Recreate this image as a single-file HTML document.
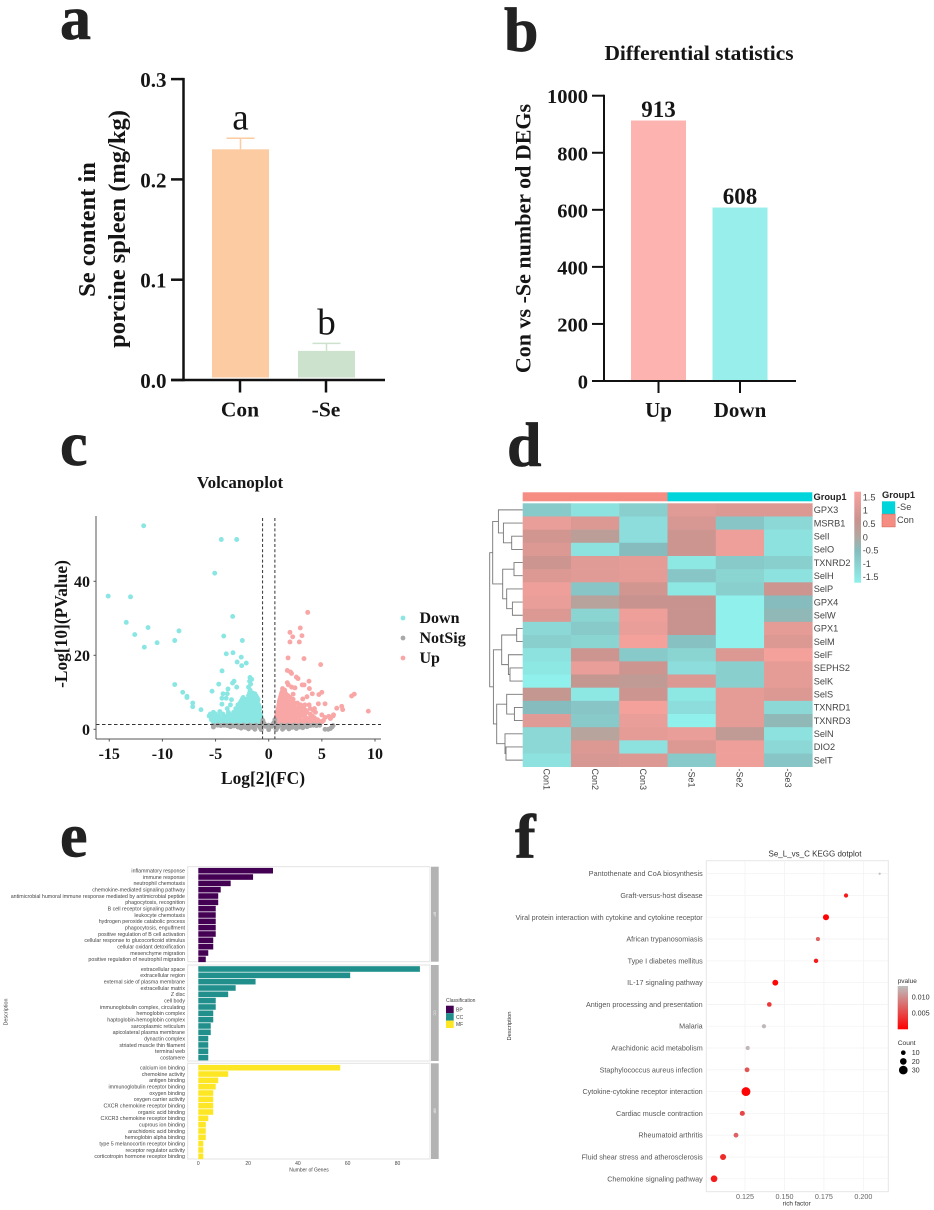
<!DOCTYPE html>
<html lang="en">
<head>
<meta charset="utf-8">
<title>Selenium deficiency spleen figure</title>
<style>
html,body{margin:0;padding:0;background:#fff;width:934px;height:1210px;overflow:hidden}
svg{display:block}
.serif{font-family:"Liberation Serif",serif;font-weight:700;fill:#151515}
.sans{font-family:"Liberation Sans",sans-serif;fill:#444}
.soft{filter:blur(.35px)}
</style>
</head>
<body>
<svg id="fig" xmlns="http://www.w3.org/2000/svg" width="934" height="1210" viewBox="0 0 934 1210">
<rect width="934" height="1210" fill="#fff"/>
<defs>
<linearGradient id="heatGrad" x1="0" y1="1" x2="0" y2="0"></linearGradient>
<linearGradient id="pGrad" x1="0" y1="1" x2="0" y2="0"><stop offset="0" stop-color="#ff0000"/><stop offset="1" stop-color="#bebebe"/></linearGradient>
</defs>

<!-- panel letters -->
<g class="serif" style="font-size:62px;fill:#222;stroke:#222;stroke-width:.7px">
<text x="60" y="39">a</text>
<text x="504" y="51">b</text>
<text x="60" y="465">c</text>
<text x="507" y="466">d</text>
<text x="60" y="856.5">e</text>
<text x="515" y="857.5">f</text>
</g>

<!-- panel a -->
<g id="panelA">
<text class="serif" transform="translate(95,229.5) rotate(-90)" text-anchor="middle" font-size="24.5">Se content in</text>
<text class="serif" transform="translate(125,229) rotate(-90)" text-anchor="middle" font-size="24.5">porcine spleen (mg/kg)</text>
</g>

<!-- panel b -->
<g id="panelB">
<text class="serif" x="699" y="60" text-anchor="middle" font-size="21.4">Differential statistics</text>
<text class="serif" transform="translate(530.5,238.5) rotate(-90)" text-anchor="middle" font-size="22">Con vs -Se number od DEGs</text>
</g>

<!-- panel c -->
<g id="panelC">
<text class="serif" x="240" y="488" text-anchor="middle" font-size="17">Volcanoplot</text>
<text class="serif" x="263" y="784" text-anchor="middle" font-size="17.4">Log[2](FC)</text>
<text class="serif" transform="translate(67,624) rotate(-90)" text-anchor="middle" font-size="17.4">-Log[10](PValue)</text>
</g>

<!-- panel d -->
<g id="panelD" class="soft">
<text class="sans" x="813.5" y="500" font-size="9.3" font-weight="700" style="fill:#222">Group1</text>
<text class="sans" x="882" y="498" font-size="9.3" font-weight="700" style="fill:#222">Group1</text>
</g>

<!-- panel e -->
<g id="panelE" class="soft">
<text class="sans" x="309" y="1171.5" text-anchor="middle" font-size="5">Number of Genes</text>
<text class="sans" transform="translate(7.5,1012) rotate(-90)" text-anchor="middle" font-size="5.4">Description</text>
<text class="sans" x="446" y="1002" font-size="5">Classification</text>
</g>

<!-- panel f -->
<g id="panelF" class="soft">
<text class="sans" x="815" y="856.5" text-anchor="middle" font-size="8" style="fill:#333">Se_L_vs_C KEGG dotplot</text>
<text class="sans" x="796.7" y="1205.5" text-anchor="middle" font-size="6.4" style="fill:#333">rich factor</text>
<text class="sans" transform="translate(511,1026) rotate(-90)" text-anchor="middle" font-size="5.8" style="fill:#333">Description</text>
<text class="sans" x="897.7" y="983" font-size="6.5" style="fill:#333">pvalue</text>
<text class="sans" x="897.7" y="1045" font-size="6.7" style="fill:#333">Count</text>
</g>
</svg>

<script>
/* ---------- panel a data ---------- */
var aCategories = ['Con', '-Se'];
var aValues = [0.23, 0.029];
var aErrors = [0.011, 0.0075];
var aLetters = ['a', 'b'];
var aTicks = [0, 0.1, 0.2, 0.3];
var aTickLabels = ['0.0', '0.1', '0.2', '0.3'];

/* ---------- panel b data ---------- */
var bCategories = ['Up', 'Down'];
var bValues = [913, 608];
var bTicks = [0, 200, 400, 600, 800, 1000];

/* ---------- panel c data ---------- */
var cXTicks = [-15, -10, -5, 0, 5, 10];
var cYTicks = [0, 20, 40];
var cLegend = ['Down', 'NotSig', 'Up'];
var cThresholdFC = 0.58;
var cThresholdP = 1.3;
var notSigPoints = [[-5.2,0.6],[-5.2,1],[-4.8,1.1],[-4.2,1.1],[-3.6,1.1],[-3,1.1],[-2.4,1.1],[-1.8,1.1],[-1.2,1.1],[-0.6,1.1],[0,1.1],[0.6,1.1],[1.2,1.1],[1.8,1.1],[2.4,1.1],[3,1.1],[3.6,1.1],[4.2,1.1],[4.8,1.1],
[-4.5,1],[-3.9,1],[-3.3,0.9],[-2.7,0.9],[-2.1,0.9],[-1.5,0.9],[-0.9,0.8],[-0.3,0.8],[0.3,0.8],[0.9,0.8],[1.5,0.9],[2.1,0.9],[2.7,0.9],[3.3,0.9],[3.9,1],[4.5,1],
[-3.6,0.7],[-2.9,0.6],[-2.2,0.5],[-1.5,0.5],[-0.8,0.4],[0,0.4],[0.8,0.4],[1.5,0.5],[2.2,0.5],[2.9,0.6],[3.6,0.7],
[-2.6,0.3],[-1.9,0.1],[-1.3,0],[-0.7,-0.1],[0,-0.1],[0.7,-0.1],[1.3,0],[1.9,0.1],[2.6,0.2],[3.2,0.4],
[-0.6,1.6],[-0.55,2.4],[-0.5,1.8],[-0.4,1.4],[0.4,1.4],[0.5,1.8],[0.58,2.6],[0.6,1.6],
[5.3,0],[5.6,0],[5.8,0.2],[5.95,0.6],[6.05,1]];
var downPoints = [[-11.76,55],[-4.46,51.3],[-3.01,51.3],[-5.08,42.2],[-15.1,36],[-13,35.8],[-13.4,28.9],[-11.35,27.5],[-12.6,25.6],[-8.44,26.6],[-8.84,24],[-10.5,23.4],[-11.7,22.2],[-3.39,30.5],[-4.23,25.2],[-2.48,24],[-3.99,20.4],[-3.36,20.7],[-2.58,19.5],[-2.97,18.2],[-2.11,17.9],[-2.54,17.2],[-4.39,15.8],[-8.84,12.1],[-4.7,12.2],[-5.33,10.3],[-8.09,10],[-7.69,8.9],[-7.69,8.6],[-7.15,7.1],[-7.15,6.1],[-6.37,5.3],[-3.26,13],[-3.4,12.5],[-3.83,10.9],[-3.01,11.4],[-4.3,9.6],[-3.9,9.6],[-4.4,8.4],[-4,8.4],[-3.5,8],[-4.4,6.8],[-3.6,6.6],[-3.9,5.6],
[-1.76,14],[-1.6,13.5],[-1.8,13],[-1.7,12.2],[-1.9,11.4],[-1.75,10.6],[-1.5,9.8],[-1.8,9.8],[-1.3,9.6],
[-5.2,1.6],[-4.8,1.6],[-4.4,1.6],[-4,1.6],[-3.6,1.6],[-3.2,1.6],[-2.8,1.6],[-2.4,1.6],[-2,1.6],[-1.6,1.6],[-1.2,1.6],[-0.8,1.6],
[-5,2.1],[-4.6,2.1],[-4.2,2.1],[-3.8,2.1],[-3.4,2.1],[-3,2.1],[-2.6,2.1],[-2.2,2.1],[-1.8,2.1],[-1.4,2.1],[-1,2.1],[-0.75,2.1],
[-5.4,2.6],[-5,2.6],[-4.6,2.6],[-4.2,2.6],[-3.8,2.6],[-3.4,2.6],[-3,2.6],[-2.6,2.6],[-2.2,2.6],[-1.8,2.6],[-1.4,2.6],[-1,2.6],[-0.7,2.6],
[-5.4,3.1],[-5,3.1],[-4.6,3.1],[-4.2,3.1],[-3.6,3.1],[-3.2,3.1],[-2.8,3.1],[-2.4,3.1],[-2,3.1],[-1.6,3.1],[-1.2,3.1],[-0.85,3.1],[-0.7,3.1],
[-5.6,3.6],[-5.2,3.6],[-4.7,3.6],[-3.9,3.6],[-3.5,3.6],[-3.1,3.6],[-2.7,3.6],[-2.3,3.6],[-1.9,3.6],[-1.5,3.6],[-1.1,3.6],[-0.75,3.6],
[-5.5,4.1],[-5,4.1],[-4.3,4.1],[-3.7,4.1],[-3.1,4.1],[-2.7,4.1],[-2.3,4.1],[-1.9,4.1],[-1.5,4.1],[-1.1,4.1],[-0.8,4.1],
[-5.2,4.6],[-4.6,4.8],[-3.8,4.6],[-3.3,4.6],[-2.9,4.6],[-2.5,4.6],[-2.1,4.6],[-1.7,4.6],[-1.3,4.6],[-0.9,4.6],
[-3,5.1],[-2.7,5.1],[-2.5,5.1],[-2.1,5.1],[-1.7,5.1],[-1.3,5.1],[-0.9,5.1],
[-3.1,5.6],[-2.7,5.6],[-2.3,5.6],[-1.9,5.6],[-1.5,5.6],[-1.1,5.6],[-0.85,5.6],
[-2.8,6.1],[-2.3,6.1],[-1.9,6.1],[-1.5,6.1],[-1.1,6.1],[-0.9,6.1],
[-2.9,6.6],[-2.5,6.6],[-2.1,6.6],[-1.7,6.6],[-1.3,6.6],[-0.95,6.6],
[-2.7,7.1],[-2.3,7.1],[-1.9,7.1],[-1.5,7.1],[-1.15,7.1],
[-2.6,7.6],[-2.2,7.6],[-1.8,7.6],[-1.4,7.6],[-1.05,7.6],
[-2.5,8.1],[-2.1,8.1],[-1.7,8.1],[-1.3,8.1],[-1,8.1],
[-2.4,8.6],[-1.6,8.6],[-1.3,8.6],[-1.1,8.6],[-1.9,9.1],[-1.5,9.1],[-1.2,9.1]];
var upPoints = [[3.67,31.6],[2.97,27.4],[2,26.2],[3.13,25.3],[2.26,25],[2,23.6],[2.88,23.6],[1.82,19.3],[3.32,19.1],[4.89,17.5],[1.75,15.9],[2.05,15.5],[2.15,15.1],[2.6,14.1],[2.76,13.7],[3.79,13],[3.15,12],[3.33,12],[1.75,12.6],[1.85,12],[2.16,11.4],[2.47,11.2],[3.83,11],[4.1,9.6],[4.72,9.4],[5,10],[1.3,11],[1.5,10.6],[2.3,9.5],[3.2,8.2],[3.6,8.8],
[8.05,9.5],[7.8,9],[9.37,4.9],[6.87,6.2],[6.96,5.3],[6.4,5.7],[5.3,6.9],[4.67,6.9],
[6.1,3.9],[6.05,3.6],[5.65,3.5],[5.3,3.2],[5,3.9],[5.15,2.4],[5.8,2.9],
[0.7,1.6],[1.1,1.6],[1.5,1.6],[1.9,1.6],[2.3,1.6],[2.7,1.6],[3.1,1.6],[3.5,1.6],[3.9,1.6],[4.3,1.6],[4.7,1.6],
[0.65,2.1],[0.9,2.1],[1.3,2.1],[1.7,2.1],[2.1,2.1],[2.5,2.1],[2.9,2.1],[3.3,2.1],[3.7,2.1],[4.1,2.1],[4.5,2.1],[4.9,2.1],
[0.65,2.6],[1,2.6],[1.4,2.6],[1.8,2.6],[2.2,2.6],[2.6,2.6],[3,2.6],[3.4,2.6],[3.8,2.6],[4.6,2.6],[5,2],
[0.7,3.1],[0.9,3.1],[1.3,3.1],[1.7,3.1],[2.1,3.1],[2.5,3.1],[2.9,3.1],[3.5,3.1],[3.9,3.1],[4.3,3.1],
[0.75,3.6],[1.1,3.6],[1.5,3.6],[1.9,3.6],[2.3,3.6],[2.7,3.6],[3.3,3.6],[4.1,3.6],
[0.8,4.1],[1,4.1],[1.4,4.1],[1.8,4.1],[2.2,4.1],[2.6,4.1],[3,4.1],[3.4,4.1],[3.9,4.1],
[0.85,4.6],[1.2,4.6],[1.6,4.6],[2,4.6],[2.4,4.6],[2.8,4.6],[3.2,4.6],[3.6,4.6],[4.4,4.6],
[0.85,5.1],[1.1,5.1],[1.5,5.1],[1.9,5.1],[2.3,5.1],[2.7,5.1],[3.1,5.1],[3.5,5.1],[4.2,5.1],
[0.9,5.6],[1.3,5.6],[1.7,5.6],[2.1,5.6],[2.5,5.6],[3,5.6],[3.9,5.6],[4.3,5.6],
[0.95,6.1],[1.2,6.1],[1.6,6.1],[2,6.1],[2.4,6.1],[2.8,6.1],[3.3,6.1],
[0.95,6.6],[1.35,6.6],[1.75,6.6],[2.15,6.6],[3,6.6],[3.4,6.6],[3.8,6.6],
[1,7.1],[1.2,7.1],[1.6,7.1],[2,7.1],[2.4,7.1],[2.7,7.1],
[1,7.6],[1.4,7.6],[1.8,7.6],[2.2,7.6],
[1.05,8.1],[1.3,8.1],[1.7,8.1],[2.3,8.1],
[1.1,8.6],[1.5,8.6],[2,8.6],[1.15,9.1],[1.4,9.1],[1.8,9.1],[1.2,9.6],[1.6,9.6],[1.25,10.1],[1.5,10.1]];

/* ---------- panel d data ---------- */
var heatRows = ['GPX3','MSRB1','SelI','SelO','TXNRD2','SelH','SelP','GPX4','SelW','GPX1','SelM','SelF','SEPHS2','SelK','SelS','TXNRD1','TXNRD3','SelN','DIO2','SelT'];
var heatCols = ['Con1','Con2','Con3','-Se1','-Se2','-Se3'];
var heatValues = [
[-0.8,-1.3,-0.9,1.0,0.9,0.9],
[1.2,0.9,-1.2,0.8,-0.7,-1.1],
[0.7,0.2,-1.2,0.6,1.3,-1.3],
[0.9,-1.3,-0.5,0.6,1.3,-1.3],
[0.6,1.0,1.1,-1.4,-0.8,-0.9],
[0.9,1.0,1.1,-0.7,-1.0,-1.3],
[1.3,-0.7,0.7,-1.4,-0.9,0.6],
[1.2,0.1,0.5,0.5,-1.6,-0.5],
[0.9,-1.0,1.3,0.5,-1.6,-0.4],
[-1.1,-0.8,1.2,0.5,-1.6,1.1],
[-0.9,-1.0,1.4,-0.6,-1.6,0.9],
[-1.3,0.6,-0.8,-1.0,0.9,1.4],
[-1.4,1.2,0.6,-1.2,-0.9,1.1],
[-1.6,0.4,0.3,0.9,-0.9,1.1],
[0.4,-1.4,0.6,-1.4,1.1,0.9],
[-0.5,-0.7,1.4,-1.2,1.1,-1.1],
[1.0,-0.8,1.2,-1.6,1.1,-0.4],
[-1.1,0.05,1.1,1.2,0.3,-1.3],
[-1.1,0.9,-1.3,0.9,1.3,-1.1],
[-1.3,0.8,0.9,-0.8,1.3,-0.7]];
var heatScaleLabels = ['1.5','1','0.5','0','-0.5','-1','-1.5'];
var heatScaleValues = [1.5,1,0.5,0,-0.5,-1,-1.5];
var groupNames = ['Con','-Se'];
var groupSizes = [3,3];
/* dendrogram: [merge height, left, right]; a number is a row index */
var dendroTree = [33,
  [30,[24.3,0,[19.3,1,[11,2,3]]],[20,[8.7,4,5],[16,6,[10.3,7,8]]]],
  [29.3,[21,[6,9,10],[14.3,11,[12.7,12,13]]],[26,[16,14,[8.3,15,16]],[17.7,17,[16.7,18,19]]]]];

/* ---------- panel e data ---------- */
var bpTerms = ['inflammatory response','immune response','neutrophil chemotaxis','chemokine-mediated signaling pathway','antimicrobial humoral immune response mediated by antimicrobial peptide','phagocytosis, recognition','B cell receptor signaling pathway','leukocyte chemotaxis','hydrogen peroxide catabolic process','phagocytosis, engulfment','positive regulation of B cell activation','cellular response to glucocorticoid stimulus','cellular oxidant detoxification','mesenchyme migration','positive regulation of neutrophil migration'];
var bpCounts = [30,22,13,9,8,8,7,7,7,7,7,6,6,4,3];
var ccTerms = ['extracellular space','extracellular region','external side of plasma membrane','extracellular matrix','Z disc','cell body','immunoglobulin complex, circulating','hemoglobin complex','haptoglobin-hemoglobin complex','sarcoplasmic reticulum','apicolateral plasma membrane','dynactin complex','striated muscle thin filament','terminal web','costamere'];
var ccCounts = [89,61,23,15,12,7,7,6,6,5,5,4,4,4,4];
var mfTerms = ['calcium ion binding','chemokine activity','antigen binding','immunoglobulin receptor binding','oxygen binding','oxygen carrier activity','CXCR chemokine receptor binding','organic acid binding','CXCR3 chemokine receptor binding','cuprous ion binding','arachidonic acid binding','hemoglobin alpha binding','type 5 melanocortin receptor binding','receptor regulator activity','corticotropin hormone receptor binding'];
var mfCounts = [57,12,8,7,6,6,6,6,4,3,3,3,2,2,2];
var eTicks = [0,20,40,60,80];
var eClasses = ['BP','CC','MF'];

/* ---------- panel f data ---------- */
var keggTerms = ['Pantothenate and CoA biosynthesis','Graft-versus-host disease','Viral protein interaction with cytokine and cytokine receptor','African trypanosomiasis','Type I diabetes mellitus','IL-17 signaling pathway','Antigen processing and presentation','Malaria','Arachidonic acid metabolism','Staphylococcus aureus infection','Cytokine-cytokine receptor interaction','Cardiac muscle contraction','Rheumatoid arthritis','Fluid shear stress and atherosclerosis','Chemokine signaling pathway'];
var keggRich = [0.2103,0.189,0.1763,0.1712,0.170,0.1442,0.1404,0.137,0.1267,0.1263,0.1256,0.1233,0.1193,0.1111,0.1054];
var keggCount = [1,8,17,7,9,16,10,8,8,11,31,12,11,17,20];
var keggP = [0.0134,0.002,0.0003,0.007,0.002,0.0005,0.004,0.013,0.013,0.006,0.0003,0.005,0.007,0.003,0.002];
var fTicks = [0.125,0.15,0.175,0.2];
var fTickLabels = ['0.125','0.150','0.175','0.200'];
var pLegendTicks = [0.01,0.005];
var pLegendLabels = ['0.010','0.005'];
var countLegend = [10,20,30];

/* ---------- helpers ---------- */
var NS = 'http://www.w3.org/2000/svg';
function mk(tag, attrs, parent, text) {
  var n = document.createElementNS(NS, tag);
  for (var k in attrs) n.setAttribute(k, attrs[k]);
  if (text !== undefined) n.textContent = text;
  parent.appendChild(n);
  return n;
}
function lerpHex(a, b, t) {
  function ch(h, i) { return parseInt(h.substr(1 + i * 2, 2), 16); }
  var out = '#';
  for (var i = 0; i < 3; i++) {
    var v = Math.round(ch(a, i) + (ch(b, i) - ch(a, i)) * t);
    out += (v < 16 ? '0' : '') + v.toString(16);
  }
  return out;
}
var el, i, j;

/* ---------- panel a ---------- */
(function () {
  var g = document.getElementById('panelA');
  var colors = ['#fccba2', '#cce2cc'], cx = [240.5, 326.5], w = 57;
  function y(v) { return 380 - v * 1003; }
  aCategories.forEach(function (c, k) {
    el = mk('line', {x1: cx[k], x2: cx[k], y1: y(aValues[k]), y2: y(aValues[k] + aErrors[k]), stroke: colors[k], 'stroke-width': 1.5}, g);
    
    
    el = mk('line', {x1: cx[k] - 14, x2: cx[k] + 14, y1: y(aValues[k] + aErrors[k]), y2: y(aValues[k] + aErrors[k]), stroke: colors[k], 'stroke-width': 1.5}, g);
    
    
    el = mk('rect', {x: cx[k] - w / 2, y: y(aValues[k]), width: w, height: y(0) - 2.5 - y(aValues[k]), fill: colors[k]}, g);
    
    
    el = mk('text', {x: cx[k], y: y(aValues[k] + aErrors[k]) - 9, 'text-anchor': 'middle', 'font-size': 37, 'font-family': '"Liberation Serif",serif', fill: '#151515'}, g, aLetters[k]);
    
    
    el = mk('line', {x1: cx[k] - 0.5, x2: cx[k] - 0.5, y1: 380, y2: 392.5, stroke: '#111', 'stroke-width': 2.5}, g);
    
    
    el = mk('text', {x: cx[k] - 0.5, y: 416.5, 'text-anchor': 'middle', 'font-size': 21.5, 'class': 'serif'}, g, c);
    
    
  });
  aTicks.forEach(function (t, k) {
    el = mk('line', {x1: 171, x2: 183, y1: y(t), y2: y(t), stroke: '#111', 'stroke-width': 2.5}, g);
    
    
    el = mk('text', {x: 166.5, y: y(t) + 8, 'text-anchor': 'end', 'font-size': 21, 'class': 'serif'}, g, aTickLabels[k]);
    
    
  });
  el = mk('line', {x1: 183.5, x2: 183.5, y1: y(0.3) - 1.2, y2: 381.2, stroke: '#111', 'stroke-width': 2.5}, g);
  
  
  el = mk('line', {x1: 171, x2: 385, y1: 380, y2: 380, stroke: '#111', 'stroke-width': 2.5}, g);
  
  
})();

/* ---------- panel b ---------- */
(function () {
  var g = document.getElementById('panelB');
  var colors = ['#fdb4b0', '#97eeea'], cx = [658.5, 740], w = 55;
  function y(v) { return 381 - v * 0.2853; }
  bCategories.forEach(function (c, k) {
    el = mk('rect', {x: cx[k] - w / 2, y: y(bValues[k]), width: w, height: y(0) - y(bValues[k]), fill: colors[k]}, g);
    
    
    el = mk('text', {x: cx[k], y: y(bValues[k]) - 3.5, 'text-anchor': 'middle', 'font-size': 23, 'class': 'serif'}, g, String(bValues[k]));
    
    
    el = mk('line', {x1: cx[k], x2: cx[k], y1: 381, y2: 393, stroke: '#111', 'stroke-width': 2}, g);
    
    
    el = mk('text', {x: cx[k], y: 417, 'text-anchor': 'middle', 'font-size': 21, 'class': 'serif'}, g, c);
    
    
  });
  bTicks.forEach(function (t) {
    el = mk('line', {x1: 592, x2: 604, y1: y(t), y2: y(t), stroke: '#111', 'stroke-width': 2}, g);
    
    
    el = mk('text', {x: 588, y: y(t) + 7.5, 'text-anchor': 'end', 'font-size': 20.5, 'class': 'serif'}, g, String(t));
    
    
  });
  el = mk('line', {x1: 604, x2: 604, y1: y(1000) - 1, y2: 382, stroke: '#111', 'stroke-width': 2}, g);
  
  
  el = mk('line', {x1: 592, x2: 796, y1: 381, y2: 381, stroke: '#111', 'stroke-width': 2}, g);
  
  
})();

/* ---------- panel c ---------- */
(function () {
  var g = document.getElementById('panelC');
  function x(v) { return 268.7 + v * 10.63; }
  function y(v) { return 729.3 - v * 3.7; }
  var r = 2.45, colors = {Down: '#8ae6e3', NotSig: '#a9a9a9', Up: '#f9a7a6'};
  function dots(list, c, name) {
    list.forEach(function (p) {
      el = mk('circle', {cx: x(p[0]), cy: y(p[1]), r: r, fill: c}, g);
      
      
    });
  }
  dots(downPoints, colors.Down, 'volcano-point-down');
  dots(upPoints, colors.Up, 'volcano-point-up');
  dots(notSigPoints, colors.NotSig, 'volcano-point-notsig');
  [-cThresholdFC, cThresholdFC].forEach(function (t) {
    el = mk('line', {x1: x(t), x2: x(t), y1: 518, y2: 739, stroke: '#444', 'stroke-width': 1.1, 'stroke-dasharray': '3 2.2'}, g);
    
    
  });
  el = mk('line', {x1: 96, x2: 381, y1: y(cThresholdP), y2: y(cThresholdP), stroke: '#333', 'stroke-width': 1.1, 'stroke-dasharray': '3.5 2.5'}, g);
  
  
  el = mk('line', {x1: 96, x2: 96, y1: 516, y2: 739, stroke: '#555', 'stroke-width': 1}, g);
  
  
  el = mk('line', {x1: 96, x2: 381, y1: 739, y2: 739, stroke: '#555', 'stroke-width': 1}, g);
  
  
  cXTicks.forEach(function (t) {
    el = mk('line', {x1: x(t), x2: x(t), y1: 739, y2: 741.5, stroke: '#555', 'stroke-width': 1}, g);
    
    
    el = mk('text', {x: x(t), y: 759, 'text-anchor': 'middle', 'font-size': 16, 'class': 'serif'}, g, String(t));
    
    
  });
  cYTicks.forEach(function (t) {
    el = mk('line', {x1: 93.5, x2: 96, y1: y(t), y2: y(t), stroke: '#555', 'stroke-width': 1}, g);
    
    
    el = mk('text', {x: 90, y: y(t) + 5.5, 'text-anchor': 'end', 'font-size': 16, 'class': 'serif'}, g, String(t));
    
    
  });
  cLegend.forEach(function (n, k) {
    var ly = 618 + k * 20;
    el = mk('circle', {cx: 403, cy: ly, r: 2.4, fill: colors[n]}, g);
    
    
    el = mk('text', {x: 419.5, y: ly + 5, 'font-size': 16, 'class': 'serif'}, g, n);
    
    
  });
})();

/* ---------- panel d ---------- */
(function () {
  var g = document.getElementById('panelD');
  var x0 = 522.7, cw = 48.27, y0 = 503.3, rh = 13.17;
  var stopV = [-1.6, -0.5, 0, 0.5, 1.5], stopC = ['#8ff0ec', '#86bcbd', '#b4a69f', '#c8938e', '#f9a29d'];
  function color(v) {
    if (v <= stopV[0]) return stopC[0];
    for (var s = 1; s < stopV.length; s++) {
      if (v <= stopV[s]) return lerpHex(stopC[s - 1], stopC[s], (v - stopV[s - 1]) / (stopV[s] - stopV[s - 1]));
    }
    return stopC[stopC.length - 1];
  }
  var grad = document.getElementById('heatGrad');
  stopV.forEach(function (v, s) { mk('stop', {offset: (v + 1.6) / 3.1, 'stop-color': stopC[s]}, grad); });

  var gc = ['#f58d82', '#00d5dc'], cStart = 0;
  groupNames.forEach(function (n, k) {
    el = mk('rect', {x: x0 + cStart * cw, y: 492.3, width: groupSizes[k] * cw, height: 9, fill: gc[k]}, g);
    
    
    cStart += groupSizes[k];
  });
  heatValues.forEach(function (row, r) {
    row.forEach(function (v, c) {
      el = mk('rect', {x: x0 + c * cw, y: y0 + r * rh, width: cw + 0.3, height: rh + 0.3, fill: color(v)}, g);
      
      
    });
    el = mk('text', {x: 813.7, y: y0 + (r + 0.5) * rh + 3.3, 'font-size': 9.2, 'class': 'sans'}, g, heatRows[r]);
    
    
  });
  heatCols.forEach(function (n, c) {
    var cx = x0 + (c + 0.5) * cw;
    el = mk('text', {transform: 'translate(' + (cx - 3.3) + ',768.5) rotate(90)', 'font-size': 9, 'class': 'sans'}, g, n);
    
    
  });
  function rowY(r) { return y0 + (r + 0.5) * rh; }
  function hx(h) { return x0 - h; }
  function draw(node) {
    if (typeof node === 'number') return {x: x0, y: rowY(node)};
    var a = draw(node[1]), b = draw(node[2]), X = hx(node[0]);
    el = mk('path', {d: 'M' + a.x + ' ' + a.y + 'H' + X + 'V' + b.y + 'H' + b.x, fill: 'none', stroke: '#777', 'stroke-width': 0.9}, g);
    
    
    return {x: X, y: (a.y + b.y) / 2};
  }
  draw(dendroTree);
  el = mk('rect', {x: 854.3, y: 491.7, width: 6.7, height: 91, fill: 'url(#heatGrad)'}, g);
  
  
  heatScaleLabels.forEach(function (l, k) {
    var v = heatScaleValues[k];
    el = mk('text', {x: 862.7, y: 537 - v * 26.6 + 3.3, 'font-size': 9.2, 'class': 'sans'}, g, l);
    
    
  });
  var lg = [['-Se', gc[1]], ['Con', gc[0]]];
  lg.forEach(function (p, k) {
    el = mk('rect', {x: 882, y: 501.3 + k * 12.8, width: 13.2, height: 12.8, fill: p[1], stroke: '#d46a60', 'stroke-width': k ? 0.6 : 0}, g);
    
    
    el = mk('text', {x: 897, y: 510 + k * 12.8, 'font-size': 9.2, 'class': 'sans'}, g, p[0]);
    
    
  });
})();

/* ---------- panel e ---------- */
(function () {
  var g = document.getElementById('panelE');
  var left = 187.7, right = 430, colors = ['#440154', '#21908c', '#fde725'];
  var frames = [[866.7, 961.7, 870.7], [965, 1061, 969], [1063.3, 1159, 1067.7]];
  var terms = [bpTerms, ccTerms, mfTerms], counts = [bpCounts, ccCounts, mfCounts];
  function x(v) { return 198.3 + v * 2.49; }
  eClasses.forEach(function (cls, k) {
    var f = frames[k];
    el = mk('rect', {x: left, y: f[0], width: right - left, height: f[1] - f[0], fill: '#fff', stroke: '#e3e3e3', 'stroke-width': 1}, g);
    
    
    el = mk('rect', {x: 431, y: f[0], width: 7.7, height: f[1] - f[0], fill: '#b3b3b3'}, g);
    
    
    el = mk('text', {transform: 'translate(433.4,' + ((f[0] + f[1]) / 2) + ') rotate(90)', 'text-anchor': 'middle', 'font-size': 3.6, 'class': 'sans', style: 'fill:#eee'}, g, cls);
    
    
    terms[k].forEach(function (t, r) {
      var cy = f[2] + r * 6.33;
      el = mk('rect', {x: x(0), y: cy - 2.8, width: x(counts[k][r]) - x(0), height: 5.6, fill: colors[k]}, g);
      
      
      el = mk('text', {x: 185, y: cy + 1.8, 'text-anchor': 'end', 'font-size': 5.3, 'class': 'sans'}, g, t);
      
      
    });
  });
  eTicks.forEach(function (t) {
    el = mk('text', {x: x(t), y: 1165, 'text-anchor': 'middle', 'font-size': 5, 'class': 'sans'}, g, String(t));
    
    
  });
  eClasses.forEach(function (cls, k) {
    el = mk('rect', {x: 446, y: 1005.7 + k * 7.45, width: 7.7, height: 7.45, fill: colors[k]}, g);
    
    
    el = mk('text', {x: 456, y: 1011.3 + k * 7.45, 'font-size': 5, 'class': 'sans'}, g, cls);
    
    
  });
})();

/* ---------- panel f ---------- */
(function () {
  var g = document.getElementById('panelF');
  var pL = 706.3, pR = 888.3, pT = 860.7, pB = 1191.7;
  function x(v) { return 745 + (v - 0.125) * 1578.7; }
  function y(r) { return 873.7 + r * 21.79; }
  function rad(c) { return 1 + c * 0.1 + (c > 2 ? 0.33 : 0); }
  function pCol(p) { return lerpHex('#ff0000', '#bebebe', Math.min(1, (p - 0.0001) / 0.0133)); }
  el = mk('rect', {x: pL, y: pT, width: pR - pL, height: pB - pT, fill: '#fff', stroke: '#e6e6e6', 'stroke-width': 1}, g);
  
  
  fTicks.forEach(function (t, k) {
    el = mk('line', {x1: x(t), x2: x(t), y1: pT, y2: pB, stroke: '#f3f3f3', 'stroke-width': 0.8}, g);
    
    
    el = mk('text', {x: x(t), y: 1199.2, 'text-anchor': 'middle', 'font-size': 7.2, 'class': 'sans', style: 'fill:#666'}, g, fTickLabels[k]);
    
    
  });
  keggTerms.forEach(function (t, r) {
    el = mk('line', {x1: pL, x2: pR, y1: y(r), y2: y(r), stroke: '#f3f3f3', 'stroke-width': 0.8}, g);
    
    
    el = mk('text', {x: 702.7, y: y(r) + 2.5, 'text-anchor': 'end', 'font-size': 7.2, 'class': 'sans', style: 'fill:#555'}, g, t);
    
    
  });
  keggTerms.forEach(function (t, r) {
    el = mk('circle', {cx: x(keggRich[r]), cy: y(r), r: rad(keggCount[r]), fill: pCol(keggP[r])}, g);
    
    
  });
  el = mk('rect', {x: 897.7, y: 986, width: 10.3, height: 43.3, fill: 'url(#pGrad)'}, g);
  
  
  pLegendTicks.forEach(function (p, k) {
    el = mk('text', {x: 911.7, y: 1013.3 - (p - 0.005) * 3260 + 2.4, 'font-size': 7.2, 'class': 'sans', style: 'fill:#333'}, g, pLegendLabels[k]);
    
    
  });
  countLegend.forEach(function (c, k) {
    var ly = 1052.7 + k * 8.7;
    el = mk('circle', {cx: 903.3, cy: ly, r: rad(c), fill: '#000'}, g);
    
    
    el = mk('text', {x: 911.7, y: ly + 2.4, 'font-size': 7.2, 'class': 'sans', style: 'fill:#333'}, g, String(c));
    
    
  });
})();
</script>
</body>
</html>
